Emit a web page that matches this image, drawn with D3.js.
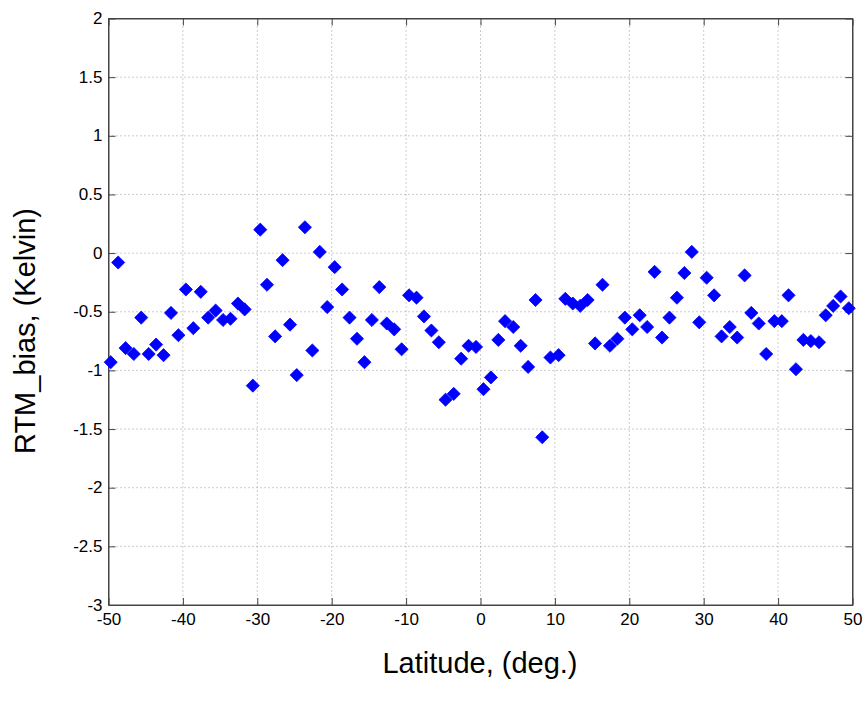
<!DOCTYPE html>
<html>
<head>
<meta charset="utf-8">
<script src="https://cdn.jsdelivr.net/npm/d3@7"></script>
<style>
  body { margin: 0; background: #fff; }
  svg { display: block; font-family: "Liberation Sans", Arial, sans-serif; }
</style>
</head>
<body>
<div id="chart"></div>
<script>
// latitude (deg.) of each point
const latitude = [
  -49.7, -48.7, -47.7, -46.6, -45.6, -44.6, -43.6, -42.6, -41.6, -40.6,
  -39.6, -38.6, -37.6, -36.6, -35.6, -34.6, -33.6, -32.6, -31.7, -30.6,
  -29.6, -28.7, -27.6, -26.6, -25.6, -24.7, -23.6, -22.6, -21.6, -20.6,
  -19.6, -18.6, -17.6, -16.6, -15.6, -14.6, -13.6, -12.6, -11.6, -10.6,
  -9.6, -8.6, -7.6, -6.6, -5.6, -4.7, -3.6, -2.6, -1.6, -0.6,
  0.4, 1.4, 2.4, 3.3, 4.4, 5.4, 6.4, 7.4, 8.3, 9.4,
  10.5, 11.4, 12.4, 13.4, 14.4, 15.4, 16.4, 17.4, 18.4, 19.4,
  20.4, 21.4, 22.4, 23.4, 24.4, 25.4, 26.4, 27.4, 28.4, 29.4,
  30.4, 31.4, 32.4, 33.5, 34.5, 35.5, 36.4, 37.4, 38.4, 39.5,
  40.5, 41.4, 42.4, 43.4, 44.4, 45.5, 46.4, 47.4, 48.4, 49.5
];
// RTM bias (Kelvin)
const rtmBias = [
  -0.93, -0.08, -0.81, -0.86, -0.55, -0.86, -0.78, -0.87, -0.51, -0.70,
  -0.31, -0.64, -0.33, -0.55, -0.49, -0.57, -0.56, -0.43, -0.48, -1.13,
  0.20, -0.27, -0.71, -0.06, -0.61, -1.04, 0.22, -0.83, 0.01, -0.46,
  -0.12, -0.31, -0.55, -0.73, -0.93, -0.57, -0.29, -0.60, -0.65, -0.82,
  -0.36, -0.38, -0.54, -0.66, -0.76, -1.25, -1.20, -0.90, -0.79, -0.80,
  -1.16, -1.06, -0.74, -0.58, -0.63, -0.79, -0.97, -0.40, -1.57, -0.89,
  -0.87, -0.39, -0.43, -0.45, -0.40, -0.77, -0.27, -0.79, -0.73, -0.55,
  -0.65, -0.53, -0.63, -0.16, -0.72, -0.55, -0.38, -0.17, 0.01, -0.59,
  -0.21, -0.36, -0.71, -0.63, -0.72, -0.19, -0.51, -0.60, -0.86, -0.58,
  -0.58, -0.36, -0.99, -0.74, -0.75, -0.76, -0.53, -0.45, -0.37, -0.47
];
const xTicks = [-50, -40, -30, -20, -10, 0, 10, 20, 30, 40, 50];
const yTicks = [2, 1.5, 1, 0.5, 0, -0.5, -1, -1.5, -2, -2.5, -3];

const data = latitude.map((lat, i) => ({lat: lat, bias: rtmBias[i]}));

const width = 864, height = 707;
const mLeft = 108.5, mRight = 852.5, mTop = 18.5, mBottom = 605;

const svg = d3.select('#chart').append('svg')
    .attr('width', width)
    .attr('height', height);

const x = d3.scaleLinear().domain([-50, 50]).range([mLeft, mRight]);
const y = d3.scaleLinear().domain([-3, 2]).range([mBottom, mTop]);

// dotted grid
const grid = svg.append('g');
grid.selectAll('.vgrid').data(xTicks.slice(1, -1)).enter()
    .append('line')
        .attr('x1', d => x(d)).attr('x2', d => x(d))
        .attr('y1', mTop).attr('y2', mBottom)
        .attr('stroke', '#999')
        .attr('stroke-dasharray', '1,3');
grid.selectAll('.hgrid').data(yTicks.slice(1, -1)).enter()
    .append('line')
        .attr('x1', mLeft).attr('x2', mRight)
        .attr('y1', d => y(d)).attr('y2', d => y(d))
        .attr('stroke', '#999')
        .attr('stroke-dasharray', '1,3');

// axes with inward ticks
const fmt = d => String(d);
const xAxis = svg.append('g')
    .attr('transform', `translate(0,${mBottom})`)
    .call(d3.axisBottom(x).tickValues(xTicks).tickSizeInner(-7).tickSizeOuter(0).tickFormat(fmt));
const yAxis = svg.append('g')
    .attr('transform', `translate(${mLeft},0)`)
    .call(d3.axisLeft(y).tickValues(yTicks).tickSizeInner(-7).tickSizeOuter(0).tickFormat(fmt));
svg.append('g')
    .attr('transform', `translate(0,${mTop})`)
    .call(d3.axisTop(x).tickValues(xTicks).tickSizeInner(-7).tickSizeOuter(0).tickFormat(''));
svg.append('g')
    .attr('transform', `translate(${mRight},0)`)
    .call(d3.axisRight(y).tickValues(yTicks).tickSizeInner(-7).tickSizeOuter(0).tickFormat(''));

svg.selectAll('.domain').attr('stroke', '#444');
svg.selectAll('.tick line').attr('stroke', '#444');
svg.selectAll('.tick text')
    .attr('fill', '#000')
    .style('font-size', '17px')
    .style('font-family', '"Liberation Sans", Arial, sans-serif');
xAxis.selectAll('.tick text').attr('y', 8).attr('dy', '0.71em');
yAxis.selectAll('.tick text').attr('x', -6).attr('dy', '0.3em');

// frame
svg.append('rect')
    .attr('x', mLeft).attr('y', mTop)
    .attr('width', mRight - mLeft).attr('height', mBottom - mTop)
    .attr('fill', 'none')
    .attr('stroke', '#444');

// diamond markers
const diamond = d3.symbol().type(d3.symbolDiamond2).size(110);
svg.append('g').selectAll('path').data(data).enter()
    .append('path')
        .attr('d', diamond)
        .attr('transform', d => `translate(${x(d.lat)},${y(d.bias)})`)
        .attr('fill', '#0000ff')
        .attr('stroke', '#0000ff')
        .attr('stroke-width', 0.8);

// axis labels
svg.append('text')
    .attr('x', 480).attr('y', 673)
    .attr('text-anchor', 'middle')
    .style('font-size', '29px')
    .text('Latitude, (deg.)');
svg.append('text')
    .attr('transform', 'translate(35,331) rotate(-90)')
    .attr('text-anchor', 'middle')
    .style('font-size', '29px')
    .text('RTM_bias, (Kelvin)');
</script>
</body>
</html>
